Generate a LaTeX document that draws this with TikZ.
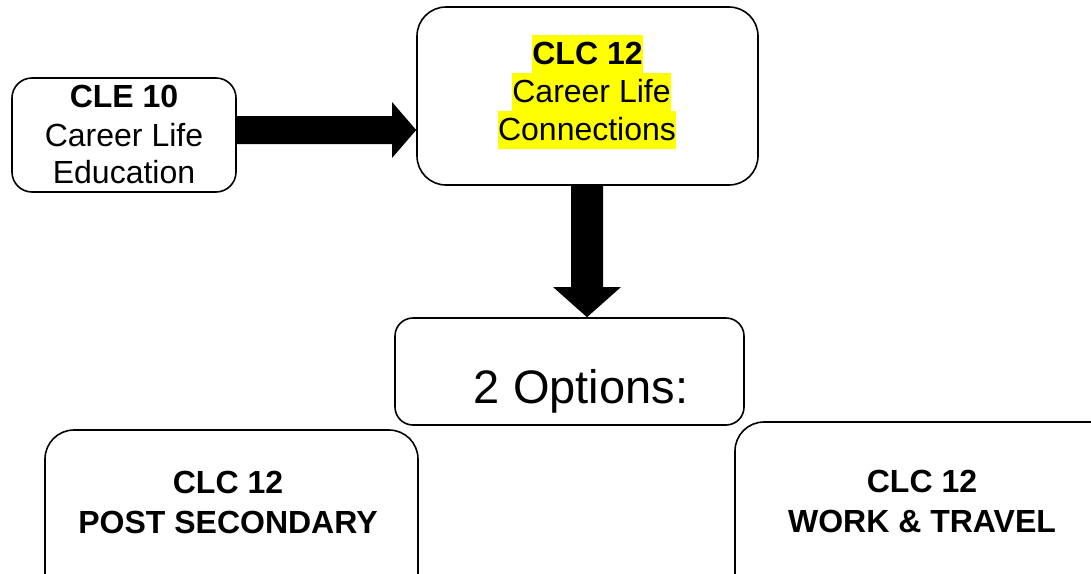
\documentclass[tikz,border=0pt]{standalone}
\usepackage{fontspec}
\setmainfont{Liberation Sans}
\definecolor{hl}{HTML}{FFFF00}
\tikzset{
  box/.style={draw=black, line width=1.6pt, rectangle, inner sep=0pt},
  txt/.style={anchor=base, inner sep=0pt, font=\fontsize{32}{38}\selectfont},
  btxt/.style={txt, font=\fontsize{32}{38}\selectfont\bfseries},
  hltxt/.style={anchor=base, inner sep=0pt, fill=hl, text height=29pt, text depth=9pt},
}
\begin{document}
\begin{tikzpicture}[x=1pt,y=-1pt]
\useasboundingbox (0,0) rectangle (1091,573);
\clip (0,0) rectangle (1091,573);
% boxes
\node[box, rounded corners=20pt, minimum width=224pt, minimum height=114pt] (cle) at (124,135) {};
\node[box, rounded corners=29pt, minimum width=341pt, minimum height=178pt] (clc) at (587.5,96) {};
\node[box, rounded corners=18pt, minimum width=349pt, minimum height=107pt] (opt) at (569.5,371.5) {};
\node[box, rounded corners=29pt, minimum width=373pt, minimum height=180pt] (ps) at (231.5,520) {};
\node[box, rounded corners=29pt, minimum width=390pt, minimum height=190pt] (wt) at (930,517) {};
% arrows
\fill[black] (cle.east |- 0,116) -- (392,116) -- (392,102) -- (clc.west |- 0,130)
  -- (392,158) -- (392,144) -- (cle.east |- 0,144) -- cycle;
\fill[black] (clc.south -| 571,0) -- (571,287) -- (553,287) -- (opt.north -| 587,0)
  -- (621,287) -- (603,287) -- (clc.south -| 603,0) -- cycle;
% texts CLE 10
\node[btxt] (cle1) at (124,107) {CLE 10};
\node[txt] (cle2) at (124,146) {Career Life};
\node[txt] (cle3) at (124,183) {Education};
% texts CLC 12
\node[hltxt, font=\fontsize{32}{38}\selectfont\bfseries] (clc1) at (587.5,64) {CLC 12};
\node[hltxt, font=\fontsize{32}{38}\selectfont] (clc2) at (591.5,102) {Career Life~};
\node[hltxt, font=\fontsize{32}{38}\selectfont] (clc3) at (587,140) {Connections};
% options
\node[anchor=base, inner sep=0pt, font=\fontsize{47}{56}\selectfont] (opt1) at (581,403) {2 Options:};
% post secondary
\node[btxt] (ps1) at (228,493) {CLC 12};
\node[btxt] (ps2) at (228,533) {POST SECONDARY};
% work & travel
\node[btxt] (wt1) at (922,492) {CLC 12};
\node[btxt] (wt2) at (922,532) {WORK \& TRAVEL};
\end{tikzpicture}
\end{document}
